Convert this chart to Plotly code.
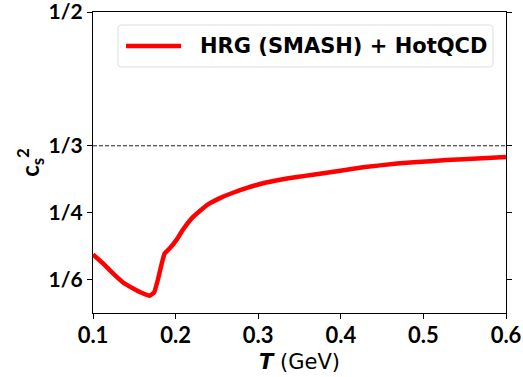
import plotly.graph_objects as go

T = [0.1, 0.1118, 0.1239, 0.1360, 0.1481, 0.1602, 0.1687, 0.1740, 0.1784, 0.1833,
     0.1869, 0.1930, 0.2015, 0.2090, 0.2209, 0.2379, 0.2536, 0.2694, 0.2864, 0.3058,
     0.3264, 0.3470, 0.3663, 0.3954, 0.4270, 0.4682, 0.5082, 0.5482, 0.6]
cs2 = [0.198, 0.187, 0.1746, 0.1633, 0.1559, 0.1496, 0.1466, 0.1505, 0.1658, 0.1870,
       0.1995, 0.2057, 0.2167, 0.2290, 0.2445, 0.2594, 0.2681, 0.2748, 0.2808, 0.2866,
       0.2910, 0.2945, 0.2972, 0.3017, 0.3065, 0.3112, 0.3142, 0.3167, 0.3192]

series_name = "HRG (SMASH) + HotQCD"
y_tickvals = [1/6, 1/4, 1/3, 1/2]
y_ticktext = ["1/6", "1/4", "1/3", "1/2"]
x_tickvals = [0.1, 0.2, 0.3, 0.4, 0.5, 0.6]
x_ticktext = ["0.1", "0.2", "0.3", "0.4", "0.5", "0.6"]

FONT = "Lato"
WFONT = "DejaVu Sans"
RED = "#ff0000"

fig = go.Figure()
fig.add_trace(go.Scatter(
    x=T, y=cs2, mode="lines", line=dict(color=RED, width=4.5, shape="spline", smoothing=0.3),
    name=series_name, showlegend=False))

fig.add_hline(y=1/3, line=dict(color="#222222", width=1, dash="4px,2px"))

# manual legend (box with rounded corners, line sample, label) in paper coords
x0, x1, y0, y1 = 0.0605, 0.9685, 0.8173, 0.9568
rx, ry = 0.0097, 0.0133
path = (f"M{x0+rx},{y0} L{x1-rx},{y0} Q{x1},{y0} {x1},{y0+ry} L{x1},{y1-ry} Q{x1},{y1} {x1-rx},{y1} "
        f"L{x0+rx},{y1} Q{x0},{y1} {x0},{y1-ry} L{x0},{y0+ry} Q{x0},{y0} {x0+rx},{y0} Z")
fig.add_shape(type="path", xref="paper", yref="paper", path=path,
              line=dict(color="#dcdcdc", width=1), fillcolor="rgba(255,255,255,0.8)")
fig.add_shape(type="line", xref="paper", yref="paper", x0=0.0799, x1=0.2131, y0=0.887, y1=0.887,
              line=dict(color=RED, width=4.5))
fig.add_annotation(xref="paper", yref="paper", x=0.2542, y=0.887, xanchor="left", yanchor="middle",
                   text=f"<b>{series_name}</b>", showarrow=False,
                   font=dict(size=21, family=WFONT, color="black"))

# x-axis title
fig.add_annotation(xref="paper", yref="paper", x=0.5, y=-0.163, xanchor="center", yanchor="middle",
                   text="<b><i>T</i></b> (GeV)", showarrow=False,
                   font=dict(size=21, family=WFONT, color="black"))

fig.update_layout(
    width=523, height=377,
    margin=dict(l=93, r=17, t=12, b=64),
    plot_bgcolor="white", paper_bgcolor="white",
    font=dict(family=FONT, color="black"),
    showlegend=False,
)
fig.update_xaxes(
    range=[0.1, 0.6], tickvals=x_tickvals, ticktext=[f"<b>{t}</b>" for t in x_ticktext],
    tickfont=dict(size=22, family=FONT), ticks="outside", ticklen=5, tickcolor="black",
    showline=True, linecolor="black", linewidth=1.3, mirror=True, showgrid=False, zeroline=False,
    automargin=False, ticklabeloverflow="allow", ticklabelstandoff=-3)
fig.update_yaxes(
    range=[0.125, 0.5], tickvals=y_tickvals, ticktext=[f"<b>{t}</b>" for t in y_ticktext],
    tickfont=dict(size=21, family=FONT), ticks="outside", ticklen=5, tickcolor="black",
    showline=True, linecolor="black", linewidth=1.3, mirror="ticks", showgrid=False, zeroline=False,
    automargin=False, ticklabeloverflow="allow",
    title=dict(text="<b>c<sub>s</sub><sup>2</sup></b>", font=dict(size=24, family=FONT), standoff=1))

fig.write_html("out.html")
